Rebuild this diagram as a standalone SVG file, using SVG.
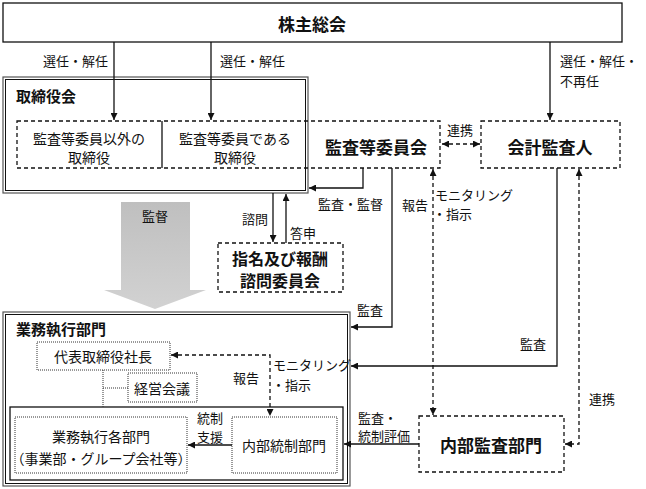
<svg xmlns="http://www.w3.org/2000/svg" width="646" height="489" viewBox="0 0 646 489">
<style>
.t{font-family:"Noto Sans CJK JP","Noto Sans CJK SC",sans-serif;fill:#111;dominant-baseline:central}
.s13{font-size:13px}
.s14{font-size:14px}
.b17{font-size:17px;font-weight:bold}
.b16{font-size:16px;font-weight:bold}
.b15{font-size:15px;font-weight:bold}
.mid{text-anchor:middle}
.ln{stroke:#111;stroke-width:1.3;fill:none}
.dl{stroke:#111;stroke-width:1.3;fill:none;stroke-dasharray:4 3}
.db{fill:#fff;stroke:#111;stroke-width:1.3;stroke-dasharray:4 3}
.dot{fill:#fff;stroke:#333;stroke-width:1;stroke-dasharray:1 1}
.box{fill:#fff;stroke:#111;stroke-width:1.3}
.dbl1{fill:#fff;stroke:#555;stroke-width:1.2}
.dbl2{fill:none;stroke:#111;stroke-width:1}
</style>
<defs>
<marker id="ah" viewBox="0 0 8 8" refX="8" refY="4" markerWidth="7" markerHeight="7" markerUnits="userSpaceOnUse" orient="auto-start-reverse">
<path d="M0,0 L8,4 L0,8 z" fill="#111"/>
</marker>
<linearGradient id="gg" x1="0" y1="0" x2="0" y2="1">
<stop offset="0" stop-color="#bfbfbf"/>
<stop offset="1" stop-color="#d2d2d2"/>
</linearGradient>
</defs>
<rect width="646" height="489" fill="#fff"/>

<g id="shareholders">
<rect class="box" x="3" y="3" width="619" height="39"/>
<text class="t b17 mid" x="312" y="23">株主総会</text>
</g>

<g id="board">
<rect class="dbl1" x="3" y="77" width="305" height="116"/>
<rect class="dbl2" x="5.5" y="79.5" width="300" height="111"/>
<text class="t b15" x="16" y="95">取締役会</text>
</g>

<g id="audit-committee">
<rect class="dl" x="17" y="121" width="423" height="47"/>
<line class="ln" x1="162" y1="121" x2="162" y2="168"/>
<text class="t b17 mid" x="376" y="146">監査等委員会</text>
</g>

<g id="directors-non-audit">
<text class="t s14 mid" x="89" y="138">監査等委員以外の</text>
<text class="t s14 mid" x="89" y="157">取締役</text>
</g>

<g id="directors-audit">
<text class="t s14 mid" x="235" y="138">監査等委員である</text>
<text class="t s14 mid" x="235" y="157">取締役</text>
</g>

<g id="accounting-auditor">
<rect class="db" x="481" y="121" width="139" height="47"/>
<text class="t b17 mid" x="550" y="146">会計監査人</text>
</g>

<g id="supervision-arrow">
<path d="M121,202 H190 V290 H206 L155,309 L104,290 H121 Z" fill="url(#gg)"/>
<text class="t s13 mid" x="155" y="215">監督</text>
</g>

<g id="nomination-committee">
<rect class="db" x="218" y="243" width="125" height="49"/>
<text class="t b16 mid" x="280" y="258">指名及び報酬</text>
<text class="t b16 mid" x="280" y="280">諮問委員会</text>
</g>

<g id="execution">
<rect class="dbl1" x="3" y="312" width="347" height="174"/>
<rect class="dbl2" x="5.5" y="314.5" width="342" height="169"/>
<text class="t b15" x="16" y="328">業務執行部門</text>
<rect class="box" x="10" y="407" width="333" height="73" stroke-width="1.2"/>
</g>

<g id="president">
<rect class="dot" x="37" y="342" width="133" height="28"/>
<text class="t s14 mid" x="103" y="356">代表取締役社長</text>
</g>

<g id="management-meeting">
<rect class="dot" x="128" y="373" width="69" height="29"/>
<text class="t s14 mid" x="162" y="388">経営会議</text>
</g>

<g id="business-units">
<rect class="dot" x="15" y="417" width="172" height="56"/>
<text class="t s14 mid" x="101" y="436">業務執行各部門</text>
<text class="t s14 mid" x="101" y="458">（事業部・グループ会社等）</text>
</g>

<g id="internal-control">
<rect class="dot" x="232" y="417" width="105" height="56"/>
<text class="t s14 mid" x="284" y="445">内部統制部門</text>
</g>

<g id="internal-audit">
<rect class="db" x="419" y="416" width="145" height="56"/>
<text class="t b17 mid" x="491" y="444">内部監査部門</text>
</g>

<g id="connectors">
<line class="ln" x1="114" y1="42" x2="114" y2="120" marker-end="url(#ah)"/>
<line class="ln" x1="211" y1="42" x2="211" y2="120" marker-end="url(#ah)"/>
<line class="ln" x1="550" y1="42" x2="550" y2="120" marker-end="url(#ah)"/>
<line class="dl" x1="442" y1="144" x2="480" y2="144" marker-start="url(#ah)" marker-end="url(#ah)"/>
<polyline class="ln" points="363,168 363,188 309,188" marker-end="url(#ah)"/>
<polyline class="ln" points="392,168 392,327 351,327" marker-end="url(#ah)"/>
<line class="dl" x1="433" y1="169" x2="433" y2="415" marker-start="url(#ah)" marker-end="url(#ah)"/>
<polyline class="ln" points="557,168 557,366 351,366" marker-end="url(#ah)"/>
<polyline class="dl" points="579,169 579,444 565,444" marker-start="url(#ah)" marker-end="url(#ah)"/>
<line class="ln" x1="273" y1="193" x2="273" y2="242" marker-end="url(#ah)"/>
<line class="ln" x1="286" y1="243" x2="286" y2="194" marker-end="url(#ah)"/>
<line class="ln" x1="419" y1="444" x2="344" y2="444" marker-end="url(#ah)"/>
<polyline class="dl" points="171,355 270,355 270,416" marker-start="url(#ah)" marker-end="url(#ah)"/>
<line class="ln" x1="232" y1="445" x2="188" y2="445" marker-end="url(#ah)"/>
<line class="dot" x1="103" y1="370" x2="103" y2="407"/>
<line class="dot" x1="103" y1="388" x2="128" y2="388"/>
</g>

<g id="labels">
<text class="t s13" x="43" y="60">選任・解任</text>
<text class="t s13" x="220" y="60">選任・解任</text>
<text class="t s13" x="560" y="60">選任・解任・</text>
<text class="t s13" x="560" y="80">不再任</text>
<text class="t s13" x="447" y="129">連携</text>
<text class="t s13" x="318" y="203">監査・監督</text>
<text class="t s13" x="402" y="204">報告</text>
<text class="t s13" x="435" y="194">モニタリング</text>
<text class="t s13" x="433" y="213">・指示</text>
<text class="t s13" x="242" y="218">諮問</text>
<text class="t s13" x="290" y="232">答申</text>
<text class="t s13" x="357" y="309">監査</text>
<text class="t s13" x="520" y="343">監査</text>
<text class="t s13" x="589" y="398">連携</text>
<text class="t s13" x="358" y="417">監査・</text>
<text class="t s13" x="358" y="435">統制評価</text>
<text class="t s13" x="233" y="377">報告</text>
<text class="t s13" x="273" y="364">モニタリング</text>
<text class="t s13" x="272" y="384">・指示</text>
<text class="t s13" x="197" y="417">統制</text>
<text class="t s13" x="197" y="436">支援</text>
</g>
</svg>
